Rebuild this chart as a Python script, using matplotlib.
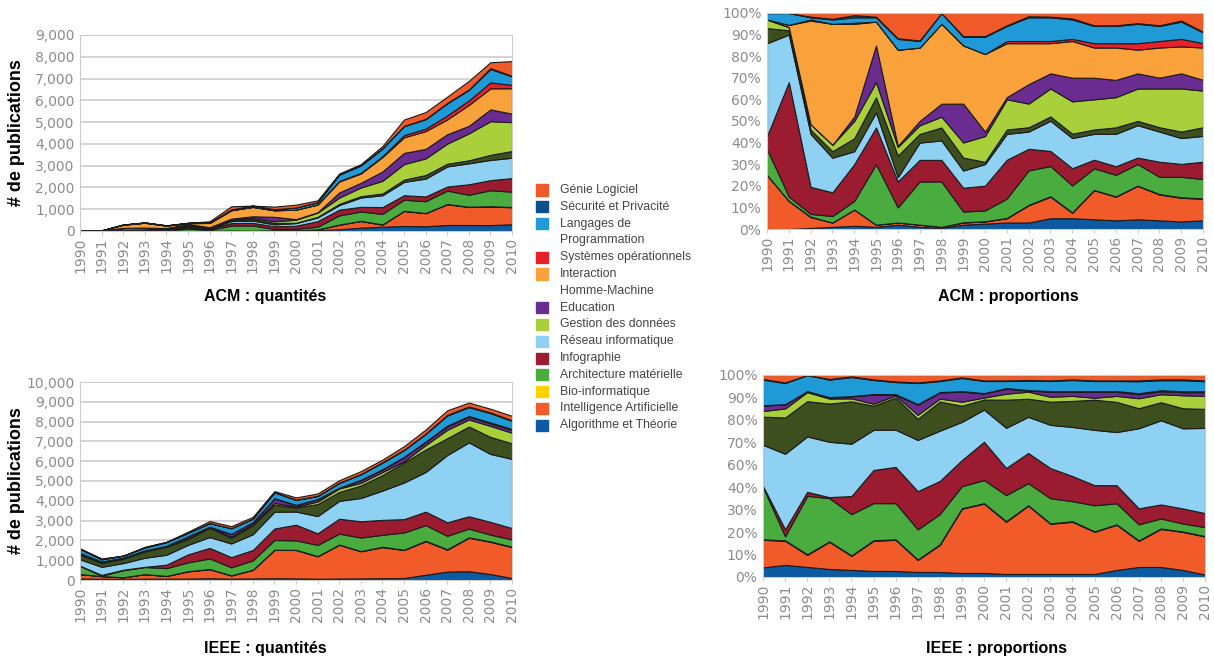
import numpy as np
import matplotlib.pyplot as plt
from matplotlib.patches import Rectangle
from matplotlib.ticker import FuncFormatter

years = np.arange(1990, 2011)

# stacking order, bottom -> top (the dark olive layer has no legend entry)
layer_names = [
    "Algorithme et Théorie", "Intelligence Artificielle", "Bio-informatique",
    "Architecture matérielle", "Infographie", "Réseau informatique", "_autre",
    "Gestion des données", "Education", "Interaction Homme-Machine",
    "Systèmes opérationnels", "Langages de Programmation",
    "Sécurité et Privacité", "Génie Logiciel",
]
layer_colors = [
    "#0b5aa2", "#f15a29", "#ffd200", "#4aab3f", "#9b1b30", "#8fd1f2", "#3d4f1f",
    "#a9cf3a", "#6a2c91", "#f9a23b", "#e8202a", "#1f9ad6", "#0d4f8b", "#f05a28",
]

# --- ACM: total publications per year and share (%) of each topic ---
acm_total = [30, 30, 300, 400, 260, 380, 445, 1135, 1165, 1120, 1210, 1410,
             2640, 3070, 3900, 5120, 5460, 6170, 6890, 7750, 7800]
acm_algo = [0, 0, 0.5, 1, 1.5, 1, 2, 1, 0.5, 2, 2.5, 3, 3, 5, 5, 4.5, 4, 4.5, 4, 3.5, 4]
acm_ia = [25, 13, 5, 2, 7.5, 1, 1, 1, 0.5, 1, 1, 2, 8, 10, 2.5, 13.5, 11, 15.5, 12, 11, 10]
acm_bio = [0, 0, 0.2, 0, 0, 0, 0, 0, 0, 0.1, 0.1, 0.1, 0.2, 0.2, 0.2, 0.1, 0.1, 0.1, 0.2, 0.2, 0.2]
acm_archi = [12, 2, 1.3, 3, 4, 28, 7, 20, 21, 5, 5, 9, 16, 14, 12.5, 10, 10, 10, 8, 9.5, 9]
acm_info = [6, 53, 12.5, 11, 17, 17, 12, 10, 10, 11, 11.5, 18, 10, 7, 8, 4, 4, 3, 7, 6, 8]
acm_reseau = [43, 22, 24.5, 16, 6, 7, 2, 8, 9, 8, 10, 12, 8, 14, 14, 12, 15, 15, 14, 12, 12]
acm_autre = [7, 2, 2, 3, 6, 7, 10, 4, 6, 6, 1, 2, 2, 2, 2, 2, 3, 2, 2, 3, 4]
acm_gestion = [4, 1.5, 2.5, 3, 8, 7, 4, 4, 5, 7, 12, 14, 11, 13, 15, 14, 14, 15, 18, 20, 17]
acm_educ = [0, 0, 0, 0, 2, 17, 0.5, 2, 6, 18, 2, 1, 9, 7, 11, 10, 8, 7, 5, 7, 5]
acm_ihm = [0, 1, 48, 56, 43, 11, 44.5, 34, 37, 27, 36, 25, 19, 14, 17, 14, 15, 11, 14, 12.5, 15]
acm_syst = [0, 0, 0.5, 0, 0.5, 0, 0, 0, 0, 0, 0, 1, 1, 1, 1, 2, 2, 3, 3, 3.5, 2]
acm_lang = [3, 5.5, 1, 2, 2.5, 2, 5, 3, 5, 4, 8, 7, 11, 11, 9, 8, 8, 9, 7, 8, 5]
acm_secu = [0, 0, 0.3, 0.3, 1, 0.3, 0.3, 0.3, 0, 0.3, 0.3, 0.3, 0.5, 0.3, 0.5, 0.3, 0.3, 0.3, 0.3, 0.5, 0.3]
acm_genie = [0, 0, 1.7, 2.7, 1, 1.7, 11.7, 12.7, 0, 10.7, 10.7, 5.7, 1.5, 1.7, 2.5, 5.7, 5.7, 4.7, 5.7, 3.5, 8.7]

# --- IEEE ---
ieee_total = [1600, 1090, 1230, 1680, 1930, 2440, 2975, 2720, 3190, 4490, 4170,
              4370, 5040, 5500, 6080, 6760, 7600, 8570, 8960, 8650, 8290]
ieee_algo = [4.8, 6, 5, 4, 3.5, 3, 3, 2.5, 2.5, 2, 2, 1.5, 1.5, 1.5, 1.5, 1.5, 3.5, 5, 5, 3.5, 1.2]
ieee_ia = [13.7, 12, 6, 13.5, 7, 15, 15.5, 6, 13.5, 32, 34.5, 26, 34, 25, 26, 21, 22.5, 13, 19, 19, 19]
ieee_bio = [0.2, 0.2, 0.3, 0.2, 0.2, 0.3, 0.2, 0.2, 0.3, 0.2, 0.2, 0.3, 0.2, 0.2, 0.3, 0.2, 0.2, 0.3, 0.2, 0.2, 0.2]
ieee_archi = [26, 2, 29, 21.5, 20.5, 18.5, 18, 15, 15, 11, 11.5, 13, 11, 12.5, 10, 13, 10.5, 8, 5, 4, 4.5]
ieee_info = [0.5, 3.5, 2, 0.5, 9, 16.5, 18, 19, 16.5, 13, 19, 13.5, 15, 15, 12.5, 10, 9, 8, 7, 7.5, 7]
ieee_reseau = [20.5, 37.5, 27.5, 27.5, 26, 20, 18.5, 25.5, 25, 19, 16, 20, 18, 21.5, 24.5, 27.5, 26.5, 40, 42, 40, 42.5]
ieee_autre = [14, 18, 17.5, 19, 21, 12, 16, 10.5, 14.5, 8, 5, 14, 9, 11.5, 13, 15, 15, 10, 9, 10, 9.5]
ieee_gestion = [2.8, 4.5, 4.5, 2.5, 1.5, 1, 1, 2, 1.5, 2, 1, 3, 3.5, 2.5, 2.5, 1, 3, 5, 4, 6.5, 6.5]
ieee_educ = [2.7, 2, 0.5, 0.5, 1, 4.5, 0.5, 5, 3, 5, 2, 2.5, 0.5, 2.5, 2, 3, 2, 2, 1.5, 1.5, 1.8]
ieee_ihm = [0.1, 0.1, 0, 0.1, 0.1, 0.2, 0.1, 0.2, 0.1, 0.2, 0.1, 0.2, 0.2, 0.2, 0.3, 0.2, 0.3, 0.3, 0.3, 0.3, 0.3]
ieee_syst = [0.1, 0, 0, 0.1, 0, 0.1, 0.1, 0.1, 0.1, 0.1, 0.1, 0.1, 0.1, 0.1, 0.1, 0.1, 0.1, 0.2, 0.2, 0.2, 0.2]
ieee_lang = [12.7, 10.5, 8, 8.7, 9.5, 7, 6, 10.5, 5.5, 6.5, 6, 3.5, 4.7, 5, 5.5, 5, 5, 6, 5, 5.5, 5]
ieee_secu = [0.3, 0.3, 0, 0.3, 0.3, 0.3, 0.3, 0.3, 0.3, 0.3, 0.3, 0.3, 0.3, 0.3, 0.3, 0.3, 0.3, 0.4, 0.4, 0.4, 0.4]
ieee_genie = [2, 3.7, 0, 2, 0.7, 2.2, 3.2, 3.7, 2.7, 1.2, 2.7, 2.7, 2.5, 2.7, 2.2, 2.7, 2.7, 2.7, 2.2, 2.2, 2.7]

acm_shares = np.array([acm_algo, acm_ia, acm_bio, acm_archi, acm_info, acm_reseau, acm_autre,
                       acm_gestion, acm_educ, acm_ihm, acm_syst, acm_lang, acm_secu, acm_genie], float)
ieee_shares = np.array([ieee_algo, ieee_ia, ieee_bio, ieee_archi, ieee_info, ieee_reseau, ieee_autre,
                        ieee_gestion, ieee_educ, ieee_ihm, ieee_syst, ieee_lang, ieee_secu, ieee_genie], float)

legend_labels = ["Génie Logiciel", "Sécurité et Privacité", "Langages de\nProgrammation",
                 "Systèmes opérationnels", "Interaction\nHomme-Machine", "Education",
                 "Gestion des données", "Réseau informatique", "Infographie",
                 "Architecture matérielle", "Bio-informatique", "Intelligence Artificielle",
                 "Algorithme et Théorie"]
legend_colors = ["#f05a28", "#0d4f8b", "#1f9ad6", "#e8202a", "#f9a23b", "#6a2c91", "#a9cf3a",
                 "#8fd1f2", "#9b1b30", "#4aab3f", "#ffd200", "#f15a29", "#0b5aa2"]

TICK_GRAY = "#8c8c8c"
FRAME_GRAY = "#cccccc"
W, H = 1214, 661


def px_axes(fig, x0, y0, x1, y1):
    return fig.add_axes([x0 / W, 1 - y1 / H, (x1 - x0) / W, (y1 - y0) / H])


def stack(ax, values):
    ax.stackplot(years, values, colors=layer_colors, edgecolor="#1c1c1c", linewidth=0.8)
    ax.set_xlim(1990, 2010)
    ax.set_xticks(years)
    ax.set_xticklabels([str(y) for y in years], rotation=90)
    ax.tick_params(axis="x", colors=FRAME_GRAY, labelcolor=TICK_GRAY, labelsize=10, length=3, pad=2)
    ax.tick_params(axis="y", length=0, labelcolor=TICK_GRAY, labelsize=10, pad=4)
    for s in ax.spines.values():
        s.set_color(FRAME_GRAY)


def quantities(ax, shares, total, ymax):
    vals = shares / shares.sum(axis=0) * np.array(total, float)
    ax.set_axisbelow(True)
    ax.grid(axis="y", color=FRAME_GRAY, linewidth=1.2)
    stack(ax, vals)
    ax.set_ylim(0, ymax)
    ax.set_yticks(np.arange(0, ymax + 1, 1000))
    ax.yaxis.set_major_formatter(FuncFormatter(lambda v, p: f"{int(v):,}"))
    ax.set_ylabel("# de publications", fontsize=13, fontweight="bold",
                  family="Liberation Sans")
    ax.yaxis.set_label_coords(-0.127, 0.5)


def proportions(ax, shares, ticks, labels):
    vals = shares / shares.sum(axis=0) * 100
    stack(ax, vals)
    ax.set_ylim(0, 100)
    ax.set_yticks(ticks)
    ax.set_yticklabels(labels)


fig = plt.figure(figsize=(W / 100, H / 100), dpi=100)

ax1 = px_axes(fig, 80, 35, 512, 231)
quantities(ax1, acm_shares, acm_total, 9000)

ax2 = px_axes(fig, 767, 13, 1203, 229)
proportions(ax2, acm_shares, np.arange(0, 101, 10), [f"{v}%" for v in range(0, 101, 10)])

ax3 = px_axes(fig, 80, 382, 512, 580)
quantities(ax3, ieee_shares, ieee_total, 10000)

ax4 = px_axes(fig, 763, 375, 1205, 577)
ieee_pct = ["0%", "10%", "20%", "30%", "40%", "60%", "70%", "80%", "90%", "100%"]
proportions(ax4, ieee_shares, np.linspace(0, 100, 10), ieee_pct)

title_kw = dict(fontsize=11.5, fontweight="bold", family="Liberation Sans", ha="center", va="center")
fig.text(265 / W, 1 - 297 / H, "ACM : quantités", **title_kw)
fig.text(1008 / W, 1 - 297 / H, "ACM : proportions", **title_kw)
fig.text(265 / W, 1 - 648 / H, "IEEE : quantités", **title_kw)
fig.text(997 / W, 1 - 648 / H, "IEEE : proportions", **title_kw)

# legend, drawn by hand in the middle column
line = 0
for lab, col in zip(legend_labels, legend_colors):
    y = 190 + 16.8 * line
    fig.patches.append(Rectangle((536 / W, 1 - (y + 5.5) / H), 12 / W, 11 / H,
                                 transform=fig.transFigure, color=col, figure=fig))
    for part in lab.split("\n"):
        fig.text(560 / W, 1 - (190 + 16.8 * line) / H, part, fontsize=8.8,
                 family="Liberation Sans", color="#444444", va="center")
        line += 1

fig.savefig("out.png", dpi=100)
